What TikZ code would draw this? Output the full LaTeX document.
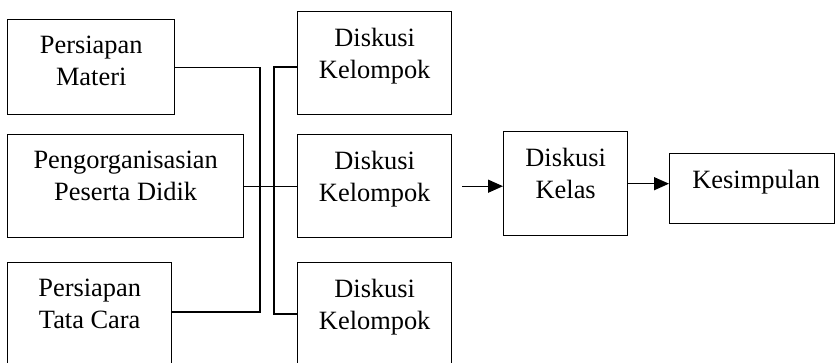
\documentclass[tikz,border=0pt]{standalone}
\usepackage{fontspec}
\setmainfont{Liberation Serif}
\usetikzlibrary{arrows.meta}

\begin{document}
\begin{tikzpicture}[x=0.5pt, y=-0.5pt,
    box/.style={draw, line width=0.7pt, anchor=north west, inner sep=0pt},
    txt/.style={anchor=north, align=center, inner sep=0pt, yshift=-8.5pt,
      font=\fontsize{13.2}{16}\selectfont},
    link/.style={line width=0.65pt},
    arr/.style={line width=0.65pt, -{Triangle[length=7.5pt, width=6.5pt]}}]
  \useasboundingbox (0,0) rectangle (835,363);
  \clip (0,0) rectangle (835,363);

  % Preparation boxes
  \node[box, minimum width=83.5pt, minimum height=47.5pt] (mat) at (7,19) {};
  \node[txt] (matT) at (mat.north) {Persiapan\\Materi};
  \node[box, minimum width=118pt, minimum height=51.5pt] (org) at (7,134) {};
  \node[txt] (orgT) at (org.north) {Pengorganisasian\\Peserta Didik};
  \node[box, minimum width=82pt, minimum height=59pt] (tata) at (7,262) {};
  \node[txt] (tataT) at (tata.north) {Persiapan\\Tata Cara};

  % Group discussions
  \foreach \i/\y/\h in {1/11/51.5, 2/134/51.5, 3/262/59} {
    \node[box, minimum width=77pt, minimum height=\h pt] (dk\i) at (297,\y) {};
    \node[txt] (dkT\i) at (dk\i.north) {Diskusi\\Kelompok};
  }

  % Class discussion and conclusion
  \node[box, minimum width=62pt, minimum height=52pt] (kelas) at (503,131) {};
  \node[txt] (kelasT) at (kelas.north) {Diskusi\\Kelas};
  \node[box, minimum width=82.5pt, minimum height=35pt] (simp) at (669,153) {};
  \node[txt, xshift=2pt] (simpT) at (simp.north) {Kesimpulan};

  % Joins between the columns
  \coordinate (jl) at (260,312);
  \coordinate (jr1) at (274,67);
  \coordinate (jr2) at (274,314);
  \draw[link] (mat.east) -| (jl) -- (tata.east |- jl);
  \draw[link] (org.east) -- (dk2.west);
  \draw[link] (dk1.west |- jr1) -- (jr1) -- (jr2) -- (dk3.west |- jr2);

  % Arrows
  \draw[arr, shorten <=5pt] (dk2.east) -- (kelas.west |- dk2.east);
  \draw[arr] (kelas.east) -- (kelas.east -| simp.west);
\end{tikzpicture}
\end{document}
